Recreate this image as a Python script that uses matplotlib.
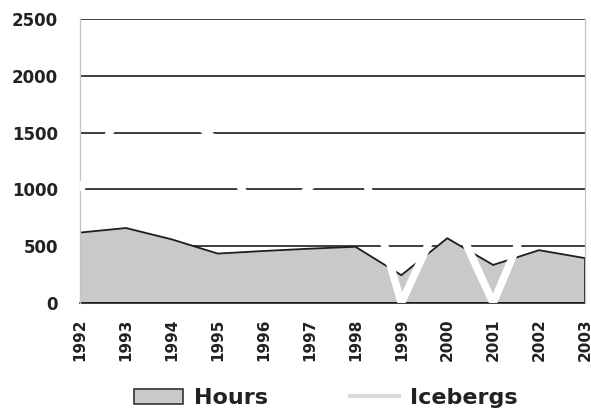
import matplotlib
matplotlib.use('Agg')
import matplotlib.pyplot as plt
from matplotlib.patches import Patch
from matplotlib.lines import Line2D

years = [1992, 1993, 1994, 1995, 1996, 1997, 1998, 1999, 2000, 2001, 2002, 2003]
hours = [620, 660, 560, 435, 458, 478, 495, 245, 570, 335, 465, 395]
icebergs = [990, 1780, 1760, 1420, 620, 1020, 1390, 0, 880, 0, 960, 930]
yticks = [0, 500, 1000, 1500, 2000, 2500]

plt.rcParams['font.family'] = ['DejaVu Sans']
plt.rcParams['font.weight'] = 'bold'

fig = plt.figure(figsize=(5.91, 4.17), dpi=100)
ax = fig.add_axes([0.1354, 0.2734, 0.8544, 0.681])

# Hours area (filled polygon with dark outline)
xs = [years[0]] + years + [years[-1]]
ys = [0] + hours + [0]
ax.fill(xs, ys, facecolor='#c9c9c9', edgecolor='#1e1e1e', linewidth=1.3, zorder=2)

# Icebergs line, almost white
ax.plot(years, icebergs, color='white', linewidth=5.5, solid_joinstyle='round',
        solid_capstyle='butt', zorder=4)

ax.set_xlim(years[0], years[-1])
ax.set_ylim(0, 2500)
ax.set_yticks(yticks)
ax.set_xticks(years)
ax.set_xticklabels([str(y) for y in years], rotation=90, fontsize=11,
                   fontweight='bold', color='#222222')
ax.set_yticklabels([str(t) for t in yticks], fontsize=12, fontweight='bold',
                   color='#222222')
ax.tick_params(axis='y', length=0, pad=16)
ax.tick_params(axis='x', length=0, pad=11)

ax.set_axisbelow(True)
ax.yaxis.grid(True, color='#1e1e1e', linewidth=1.2)
ax.xaxis.grid(False)

ax.spines['top'].set_visible(False)
ax.spines['bottom'].set_color('#1e1e1e')
ax.spines['bottom'].set_linewidth(1.2)
for s in ['left', 'right']:
    ax.spines[s].set_color('#c4c4c4')
    ax.spines[s].set_linewidth(0.9)
    ax.spines[s].set_zorder(3)

handles = [Patch(facecolor='#c9c9c9', edgecolor='#333333', linewidth=1.2),
           Line2D([0], [0], color='#dadada', linewidth=3)]
leg = fig.legend(handles, ['Hours', 'Icebergs'], loc='center',
                 bbox_to_anchor=(0.551, 0.045), ncol=2, frameon=False,
                 prop={'size': 16, 'weight': 'bold'}, handlelength=2.2,
                 handleheight=0.7, handletextpad=0.5, columnspacing=3.7)
for t in leg.get_texts():
    t.set_color('#222222')

fig.savefig('out.png', dpi=100)
